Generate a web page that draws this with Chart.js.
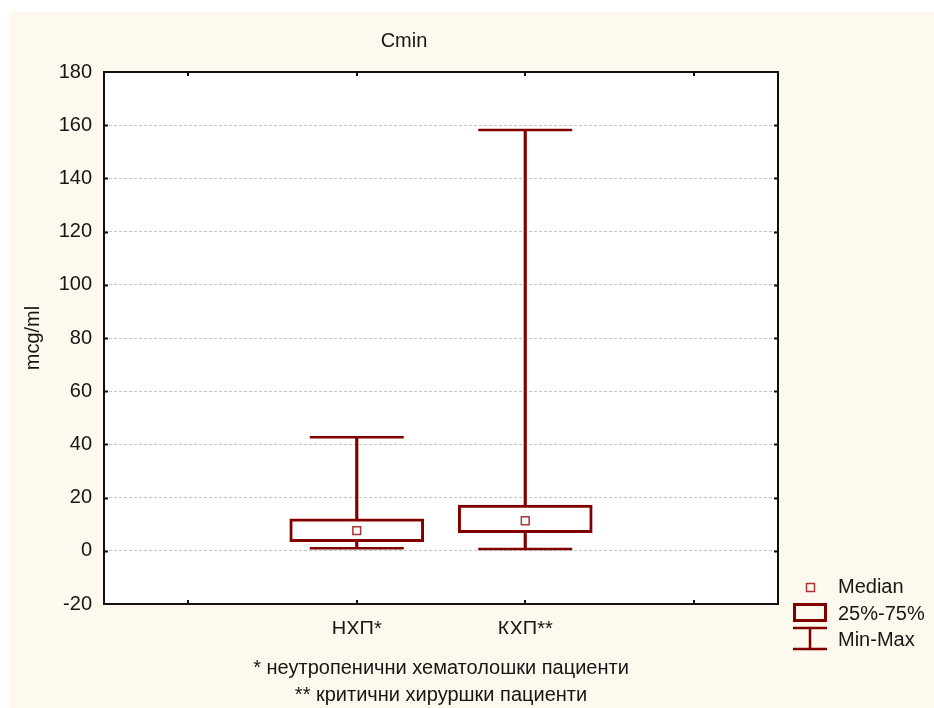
<!doctype html>
<html>
    <head>
        <meta charset="UTF-8" />
        <script src="https://cdn.jsdelivr.net/npm/chart.js"></script>
        <style>
            html, body { margin: 0; padding: 0; background: #fff; }
            canvas { display: block; }
        </style>
    </head>
    <body>
        <canvas id="boxChart" width="934" height="708"></canvas>
        <script>
            // values
            const xSlots = ["", "НХП*", "КХП**", ""];
            const groupPos = [2, 3];
            const minVals = [1.0, 0.7];
            const q1Vals = [3.4, 6.8];
            const medianVals = [7.6, 11.3];
            const q3Vals = [12.0, 17.2];
            const maxVals = [42.7, 158.2];
            const yMin = -20;
            const yMax = 180;
            const yStep = 20;

            const chartTitle = "Cmin";
            const yTitle = "mcg/ml";
            const footnotes = [
                "* неутропенични хематолошки пациенти",
                "** критични хируршки пациенти",
            ];
            const legendLabels = ["Median", "25%-75%", "Min-Max"];

            const RED = "#800000";
            const INK = "#161616";
            const FONT = "Liberation Sans, Arial, sans-serif";

            const decor = {
                id: "decor",
                beforeDraw(chart) {
                    const { ctx, chartArea: a } = chart;
                    ctx.save();
                    ctx.fillStyle = "#fff";
                    ctx.fillRect(0, 0, chart.width, chart.height);
                    ctx.fillStyle = "#fef9ee";
                    ctx.fillRect(10, 12, chart.width - 10, chart.height - 12);
                    ctx.fillStyle = "#fff";
                    ctx.fillRect(a.left, a.top, a.right - a.left, a.bottom - a.top);
                    ctx.restore();
                },
                afterDraw(chart) {
                    const { ctx, chartArea: a } = chart;
                    const xs = chart.scales.x;
                    const ys = chart.scales.y;
                    ctx.save();
                    // frame
                    ctx.strokeStyle = "#111";
                    ctx.lineWidth = 2;
                    ctx.strokeRect(a.left, a.top, a.right - a.left, a.bottom - a.top);
                    // inward ticks
                    ctx.beginPath();
                    for (let v = yMin + yStep; v < yMax; v += yStep) {
                        const py = Math.round(ys.getPixelForValue(v)) + 0.5;
                        ctx.moveTo(a.left, py);
                        ctx.lineTo(a.left + 4, py);
                        ctx.moveTo(a.right, py);
                        ctx.lineTo(a.right - 4, py);
                    }
                    for (let i = 1; i <= xSlots.length; i++) {
                        const px = Math.round(xs.getPixelForValue(i));
                        ctx.moveTo(px, a.top);
                        ctx.lineTo(px, a.top + 4);
                        ctx.moveTo(px, a.bottom);
                        ctx.lineTo(px, a.bottom - 4);
                    }
                    ctx.stroke();

                    // title and footnotes
                    ctx.fillStyle = INK;
                    ctx.font = "20px " + FONT;
                    ctx.textAlign = "center";
                    ctx.textBaseline = "alphabetic";
                    ctx.fillText(chartTitle, 404, 47);
                    const cx = (a.left + a.right) / 2;
                    ctx.fillText(footnotes[0], cx, 674);
                    ctx.fillText(footnotes[1], cx, 701);

                    // legend
                    ctx.textAlign = "left";
                    ctx.fillText(legendLabels[0], 838, 593);
                    ctx.fillText(legendLabels[1], 838, 620);
                    ctx.fillText(legendLabels[2], 838, 646);
                    ctx.strokeStyle = "#a33";
                    ctx.lineWidth = 1.5;
                    ctx.strokeRect(806.5, 583.5, 8, 8);
                    ctx.strokeStyle = RED;
                    ctx.lineWidth = 3;
                    ctx.strokeRect(794.5, 604.5, 31, 16);
                    ctx.lineWidth = 2.5;
                    ctx.beginPath();
                    ctx.moveTo(793, 628);
                    ctx.lineTo(827, 628);
                    ctx.moveTo(793, 649);
                    ctx.lineTo(827, 649);
                    ctx.moveTo(810, 628);
                    ctx.lineTo(810, 649);
                    ctx.stroke();
                    ctx.restore();
                },
            };

            const whiskerData = groupPos.map((x, i) => ({ x, y: [minVals[i], maxVals[i]] }));
            const boxData = groupPos.map((x, i) => ({ x, y: [q1Vals[i], q3Vals[i]] }));
            const capData = groupPos.flatMap((x, i) => [
                { x, y: minVals[i] },
                { x, y: maxVals[i] },
            ]);
            const medianData = groupPos.map((x, i) => ({ x, y: medianVals[i] }));

            new Chart(document.getElementById("boxChart"), {
                type: "bar",
                data: {
                    datasets: [
                        {
                            label: "Median",
                            type: "scatter",
                            data: medianData,
                            pointStyle: "rect",
                            pointRadius: 5.5,
                            borderWidth: 1.5,
                            borderColor: "#a33",
                            backgroundColor: "#fff",
                            order: 0,
                        },
                        {
                            label: "caps",
                            type: "scatter",
                            data: capData,
                            pointStyle: "line",
                            pointRadius: 47,
                            borderWidth: 2.5,
                            borderColor: RED,
                            order: 0,
                        },
                        {
                            label: "25%-75%",
                            data: boxData,
                            grouped: false,
                            barThickness: 134,
                            backgroundColor: "#fff",
                            borderColor: RED,
                            borderWidth: 3,
                            borderSkipped: false,
                            order: 1,
                        },
                        {
                            label: "Min-Max",
                            data: whiskerData,
                            grouped: false,
                            barThickness: 2.5,
                            backgroundColor: RED,
                            borderWidth: 0,
                            order: 2,
                        },
                    ],
                },
                options: {
                    responsive: false,
                    devicePixelRatio: 1,
                    animation: false,
                    events: [],
                    layout: {
                        padding: { left: 0, right: 156, top: 72, bottom: 74 },
                    },
                    plugins: {
                        legend: { display: false },
                        tooltip: { enabled: false },
                    },
                    scales: {
                        x: {
                            type: "linear",
                            offset: false,
                            min: 0.5,
                            max: xSlots.length + 0.5,
                            afterBuildTicks: (s) => {
                                s.ticks = xSlots.map((_, i) => ({ value: i + 1 }));
                            },
                            afterFit: (s) => {
                                s.height = 30;
                            },
                            grid: { display: false, drawTicks: false },
                            border: { display: false },
                            ticks: {
                                padding: 13,
                                color: INK,
                                font: { family: FONT, size: 20 },
                                autoSkip: false,
                                maxRotation: 0,
                                callback: (v) => xSlots[v - 1] || "",
                            },
                        },
                        y: {
                            min: yMin,
                            max: yMax,
                            afterFit: (s) => {
                                s.width = 104;
                            },
                            grid: {
                                drawTicks: false,
                                lineWidth: 1,
                                color: (c) =>
                                    c.tick && c.tick.value > yMin && c.tick.value < yMax
                                        ? "#c4c4c4"
                                        : "rgba(0,0,0,0)",
                            },
                            border: { display: false, dash: [3, 2] },
                            ticks: {
                                stepSize: yStep,
                                padding: 12,
                                color: INK,
                                font: { family: FONT, size: 20 },
                            },
                            title: {
                                display: true,
                                text: yTitle,
                                color: INK,
                                font: { family: FONT, size: 20 },
                                padding: { top: 21, bottom: 0 },
                            },
                        },
                    },
                },
                plugins: [decor],
            });
        </script>
    </body>
</html>
